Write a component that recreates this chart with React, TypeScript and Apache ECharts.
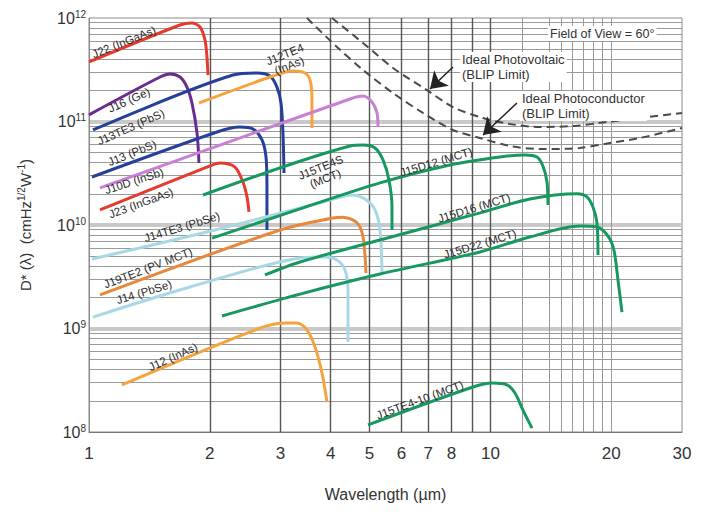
import React, { useEffect, useRef } from 'react';
import * as echarts from 'echarts';

const FONT = '"Liberation Sans", Arial, Helvetica, sans-serif';

// ---- axis ticks / grid ----
const xLabelTicks = [1, 2, 3, 4, 5, 6, 7, 8, 10, 20, 30];
const xMajorGrid = [2, 3, 4, 5, 6, 7, 8, 9, 10];
const xMinorGrid = [12, 14, 15, 16, 17, 18, 19, 20];
const yLabelTicks = [1e8, 1e9, 1e10, 1e11, 1e12];
const yDecadeGrid = [1e9, 1e10, 1e11];
const yMinorMantissa = [2, 3, 4, 5, 6, 7, 8, 9];
const yMinorDecades = [1e8, 1e9, 1e10, 1e11];

// ---- detector curves: [wavelength µm, D*] ----
const j22 = [[1.0, 3.76e11], [1.685, 8.56e11], [1.805, 8.95e11], [1.89, 8.18e11], [1.945, 6.13e11], [1.967, 4.2e11], [1.979, 2.81e11]];
const j16 = [[1.0, 1.16e11], [1.503, 2.69e11], [1.591, 2.88e11], [1.685, 2.69e11], [1.754, 2.15e11], [1.805, 1.51e11], [1.858, 7.74e10], [1.879, 3.97e10]];
const j13te3 = [[1.023, 8.28e10], [2.284, 2.81e11], [2.621, 2.94e11], [2.824, 2.75e11], [2.939, 2.15e11], [3.008, 1.51e11], [3.042, 7.74e10], [3.06, 3.18e10]];
const j12te4 = [[1.879, 1.51e11], [2.872, 2.75e11], [3.222, 3.08e11], [3.451, 2.94e11], [3.551, 2.52e11], [3.592, 1.72e11], [3.592, 8.65e10]];
const j13 = [[1.017, 2.91e10], [2.084, 7.92e10], [2.377, 8.85e10], [2.561, 8.47e10], [2.697, 6.63e10], [2.76, 4.54e10], [2.775, 2.33e10], [2.775, 8.95e9]];
const j10d = [[1.065, 2.28e10], [4.467, 1.65e11], [4.814, 1.76e11], [5.07, 1.54e11], [5.216, 1.21e11], [5.246, 8.85e10]];
const j23 = [[1.065, 1.4e10], [2.001, 3.72e10], [2.12, 3.97e10], [2.31, 3.63e10], [2.418, 2.6e10], [2.475, 1.87e10], [2.503, 1.34e10]];
const j15te4s = [[1.923, 1.95e10], [4.467, 5.8e10], [4.814, 5.93e10], [5.157, 5.55e10], [5.399, 4.25e10], [5.587, 2.72e10], [5.685, 1.49e10], [5.685, 8.95e9]];
const j14te3 = [[1.017, 4.69e9], [2.06, 8.95e9], [3.984, 1.74e10], [4.519, 1.95e10], [4.869, 1.78e10], [5.157, 1.4e10], [5.307, 8.95e9], [5.368, 3.44e9]];
const j19te2 = [[1.065, 2.11e9], [2.99, 8.95e9], [4.053, 1.17e10], [4.291, 1.19e10], [4.651, 1.05e10], [4.814, 7.66e9], [4.897, 3.44e9]];
const j14 = [[1.023, 1.29e9], [1.785, 2.52e9], [3.354, 4.8e9], [3.827, 4.91e9], [4.146, 4.59e9], [4.341, 3.67e9], [4.417, 2.36e9], [4.417, 7.41e8]];
const j12 = [[1.208, 2.85e8], [2.667, 1.01e9], [3.113, 1.13e9], [3.297, 1.13e9], [3.49, 9.68e8], [3.655, 6.63e8], [3.805, 3.72e8], [3.915, 1.95e8]];
const j15d12 = [[2.025, 7.48e9], [3.354, 1.43e10], [5.307, 2.55e10], [7.93, 3.8e10], [10.56, 4.54e10], [12.19, 4.75e10], [13.06, 4.54e10], [13.51, 3.72e10], [13.83, 2.6e10], [13.91, 1.56e10]];
const j15d16 = [[2.744, 3.29e9], [3.354, 4.39e9], [5.307, 7.16e9], [9.416, 1.31e10], [12.54, 1.78e10], [16.42, 2.0e10], [17.39, 1.87e10], [18.0, 1.49e10], [18.42, 1.05e10], [18.53, 5.13e9]];
const j15d22 = [[2.144, 1.32e9], [3.354, 2.15e9], [5.307, 3.36e9], [9.416, 5.49e9], [12.54, 7.66e9], [16.71, 9.78e9], [18.42, 9.57e9], [19.62, 7.83e9], [20.3, 5.73e9], [20.78, 2.94e9], [21.26, 1.44e9]];
const j15te410 = [[4.954, 1.17e8], [9.045, 2.72e8], [10.14, 2.97e8], [10.99, 2.85e8], [11.51, 2.38e8], [12.05, 1.63e8], [12.69, 1.09e8]];

// ---- ideal BLIP limits ----
const idealPV = [[4.03, 1e12], [4.814, 5.73e11], [5.72, 3.29e11], [6.946, 2.01e11], [8.066, 1.38e11], [9.579, 1.08e11], [11.18, 9.46e10], [13.28, 8.85e10], [16.23, 9.06e10], [19.51, 9.89e10], [23.57, 1.08e11], [30, 1.21e11]];
const idealPC = [[3.49, 1e12], [4.146, 5.25e11], [4.814, 3.15e11], [5.72, 1.88e11], [6.79, 1.21e11], [8.066, 8.28e10], [9.416, 6.93e10], [11.18, 5.8e10], [13.28, 5.42e10], [16.71, 5.55e10], [19.85, 6.2e10], [23.57, 6.93e10], [30, 8.65e10]];

const curveNames = ['J22 (InGaAs)', 'J16 (Ge)', 'J13TE3 (PbS)', 'J12TE4\n(InAs)', 'J13 (PbS)', 'J10D (InSb)', 'J23 (InGaAs)', 'J15TE4S\n(MCT)', 'J14TE3 (PbSe)', 'J19TE2 (PV MCT)', 'J14 (PbSe)', 'J12 (InAs)', 'J15D12 (MCT)', 'J15D16 (MCT)', 'J15D22 (MCT)', 'J15TE4-10 (MCT)'];
const curveData = [j22, j16, j13te3, j12te4, j13, j10d, j23, j15te4s, j14te3, j19te2, j14, j12, j15d12, j15d16, j15d22, j15te410];

// styles / label placement (kept apart from the data)
const RED = '#e63a2e', PURPLE = '#6a2d8f', BLUE = '#26409a', ORANGE = '#f4a33e', DORANGE = '#e8883a', ORCHID = '#c97fd4', LBLUE = '#a8d7e6', GREEN = '#17985f';
const curveColors = [RED, PURPLE, BLUE, ORANGE, BLUE, ORCHID, RED, GREEN, LBLUE, DORANGE, LBLUE, ORANGE, GREEN, GREEN, GREEN, GREEN];
const labelAnchors = [[1.222, 5.86e11], [1.258, 1.61e11], [1.272, 8.85e10], [3.113, 3.93e11], [1.28, 4.96e10], [1.295, 2.66e10], [1.347, 1.63e10], [3.827, 3.18e10], [1.704, 9.57e9], [1.403, 3.84e9], [1.371, 2.25e9], [1.619, 5.31e8], [7.32, 4.06e10], [9.1, 1.46e10], [9.416, 6.55e9], [6.67, 2.04e8]];
const labelRotations = [22, 24, 24, 22, 22, 18, 20, 22, 17, 21, 17, 24, 17, 17, 17, 20];

const pvArrow = [[8.066, 3.36e11], [7.07, 2.06e11]];
const pcArrow = [[11.64, 1.51e11], [9.579, 7.41e10]];

export default function App() {
  const ref = useRef<HTMLDivElement>(null);
  useEffect(() => {
    if (!ref.current) return;
    const chart = echarts.init(ref.current, null, { renderer: 'svg' });
    const yMinorGrid: number[] = [];
    yMinorDecades.forEach((d) => yMinorMantissa.forEach((m) => yMinorGrid.push(m * d)));

    const curveSeries = curveData.map((data, i) => ({
      type: 'line',
      name: curveNames[i],
      data,
      showSymbol: false,
      symbol: 'none',
      smooth: 0.3,
      z: 3,
      lineStyle: { color: curveColors[i], width: 3 },
      markPoint: {
        silent: true,
        symbol: 'rect',
        symbolSize: 1,
        itemStyle: { color: 'rgba(0,0,0,0)' },
        data: [{ coord: labelAnchors[i], value: 0 }],
        label: {
          show: true,
          position: 'inside',
          formatter: curveNames[i],
          rotate: labelRotations[i],
          color: '#2a2a2a',
          fontSize: 11.5,
          fontFamily: FONT,
          lineHeight: 12,
          align: 'center',
        },
      },
    }));

    const arrowLine = (pts: number[][]) => ({
      silent: true,
      symbol: ['none', 'arrow'],
      symbolSize: 16,
      label: { show: false },
      lineStyle: { type: 'solid', color: '#222', width: 1.5 },
      data: [[{ coord: pts[0] }, { coord: pts[1] }]],
    });

    const option: any = {
      animation: false,
      backgroundColor: '#fff',
      textStyle: { fontFamily: FONT },
      grid: { left: 89, right: 26, top: 18, bottom: 87, show: true, borderColor: '#8a8a8a', borderWidth: 1 },
      xAxis: [
        {
          type: 'log',
          min: 1,
          max: 30,
          position: 'bottom',
          name: 'Wavelength (µm)',
          nameLocation: 'middle',
          nameGap: 54,
          nameTextStyle: { fontSize: 16, color: '#333', fontFamily: FONT },
          axisLine: { show: true, lineStyle: { color: '#777', width: 1 } },
          axisTick: { show: false, customValues: xMajorGrid },
          axisLabel: { customValues: xLabelTicks, formatter: (v: number) => String(v), fontSize: 17, color: '#333', margin: 13, fontFamily: FONT },
          splitLine: { show: true, lineStyle: { color: '#555', width: 1.4 } },
        },
        {
          type: 'log',
          min: 1,
          max: 30,
          position: 'top',
          axisLine: { show: false },
          axisTick: { show: false, customValues: xMinorGrid },
          axisLabel: { show: false },
          splitLine: { show: true, lineStyle: { color: '#999', width: 1 } },
        },
      ],
      yAxis: [
        {
          type: 'log',
          min: 1e8,
          max: 1e12,
          position: 'left',
          name: '{n|D* (λ)  (cmHz}{s|1/2}{n|W}{s|-1}{n|)}',
          nameLocation: 'middle',
          nameRotate: 90,
          nameGap: 55,
          nameTextStyle: {
            rich: {
              n: { fontSize: 15, color: '#333', fontFamily: FONT, lineHeight: 18 },
              s: { fontSize: 10, color: '#333', fontFamily: FONT, lineHeight: 11, verticalAlign: 'top' },
            },
          },
          axisLine: { show: true, lineStyle: { color: '#888', width: 1 } },
          axisTick: { show: false, customValues: yDecadeGrid },
          axisLabel: {
            customValues: yLabelTicks,
            margin: 3,
            formatter: (v: number) => `{b|10}{s|${Math.round(Math.log10(v))}}`,
            rich: {
              b: { fontSize: 16, color: '#333', fontFamily: FONT, lineHeight: 18 },
              s: { fontSize: 10, color: '#333', fontFamily: FONT, lineHeight: 10, verticalAlign: 'top' },
            },
          },
          splitLine: { show: true, lineStyle: { color: '#c9c9c9', width: 4 } },
        },
        {
          type: 'log',
          min: 1e8,
          max: 1e12,
          position: 'right',
          axisLine: { show: false },
          axisTick: { show: false, customValues: yMinorGrid },
          axisLabel: { show: false },
          splitLine: { show: true, lineStyle: { color: '#9a9a9a', width: 1 } },
        },
      ],
      series: [
        ...curveSeries,
        {
          type: 'line',
          name: 'Ideal Photovoltaic (BLIP Limit)',
          data: idealPV,
          showSymbol: false,
          symbol: 'none',
          smooth: 0.3,
          z: 4,
          lineStyle: { color: '#4a4a4a', width: 2, type: [8, 5] },
          markLine: arrowLine(pvArrow),
        },
        {
          type: 'line',
          name: 'Ideal Photoconductor (BLIP Limit)',
          data: idealPC,
          showSymbol: false,
          symbol: 'none',
          smooth: 0.3,
          z: 4,
          lineStyle: { color: '#4a4a4a', width: 2, type: [8, 5] },
          markLine: arrowLine(pcArrow),
        },
      ],
      graphic: [
        {
          type: 'text', x: 548, y: 26, z: 10,
          style: { text: 'Field of View = 60°', fontSize: 12.5, fontFamily: FONT, fill: '#333', backgroundColor: '#fff', padding: [1, 2] },
        },
        {
          type: 'text', x: 460, y: 52, z: 10,
          style: { text: 'Ideal Photovoltaic\n(BLIP Limit)', fontSize: 13, lineHeight: 15, fontFamily: FONT, fill: '#333', backgroundColor: '#fff', padding: [0, 2] },
        },
        {
          type: 'text', x: 520, y: 91, z: 10,
          style: { text: 'Ideal Photoconductor\n(BLIP Limit)', fontSize: 13, lineHeight: 15, fontFamily: FONT, fill: '#333', backgroundColor: '#fff', padding: [0, 2] },
        },
      ],
    };
    chart.setOption(option);
    return () => chart.dispose();
  }, []);
  return <div ref={ref} style={{ position: 'fixed', left: 0, top: 0, width: 708, height: 519, background: '#fff' }} />;
}
